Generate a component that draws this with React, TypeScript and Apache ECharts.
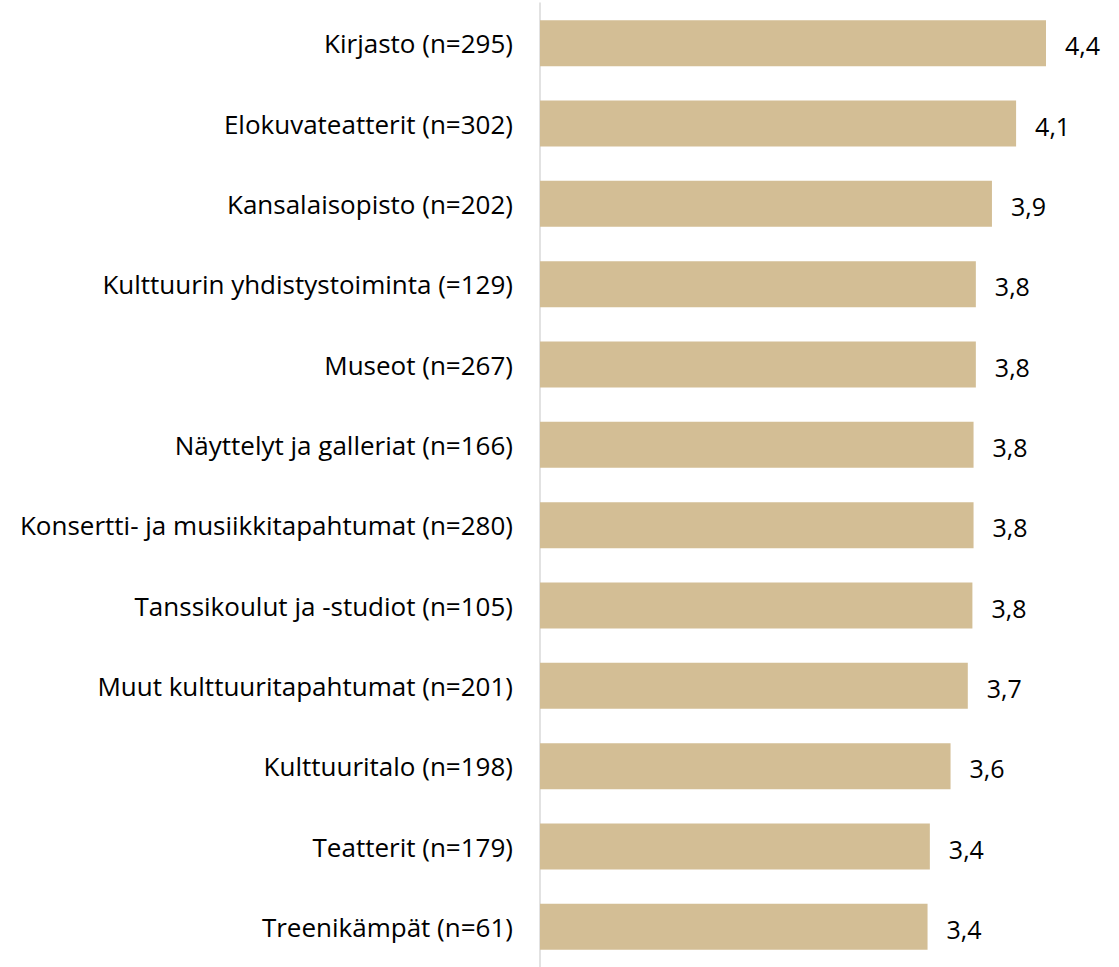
import React, { useEffect, useRef } from "react";
import * as echarts from "echarts";

const categories: string[] = [
  "Kirjasto (n=295)",
  "Elokuvateatterit (n=302)",
  "Kansalaisopisto (n=202)",
  "Kulttuurin yhdistystoiminta (=129)",
  "Museot (n=267)",
  "Näyttelyt ja galleriat (n=166)",
  "Konsertti- ja musiikkitapahtumat (n=280)",
  "Tanssikoulut ja -studiot (n=105)",
  "Muut kulttuuritapahtumat (n=201)",
  "Kulttuuritalo (n=198)",
  "Teatterit (n=179)",
  "Treenikämpät (n=61)",
];

const values: number[] = [4.4, 4.14, 3.93, 3.79, 3.79, 3.77, 3.77, 3.76, 3.72, 3.57, 3.39, 3.37];

const FONT = "'Open Sans', 'Noto Sans', sans-serif";

export default function App() {
  const ref = useRef<HTMLDivElement>(null);
  useEffect(() => {
    if (!ref.current) return;
    const chart = echarts.init(ref.current, undefined, { renderer: "svg" });
    chart.setOption({
      animation: false,
      backgroundColor: "#ffffff",
      grid: { left: 540, right: 4, top: 3, bottom: -3, containLabel: false },
      xAxis: {
        type: "value",
        min: 0,
        max: 5,
        show: false,
        splitLine: { show: false },
      },
      yAxis: {
        type: "category",
        data: categories,
        inverse: true,
        axisLine: { show: true, lineStyle: { color: "#d9d9d9", width: 1.5 } },
        axisTick: { show: false },
        axisLabel: {
          margin: 27,
          color: "#000000",
          fontFamily: FONT,
          fontSize: 26,
        },
      },
      series: [
        {
          type: "bar",
          data: values,
          barWidth: 46,
          itemStyle: { color: "#D3BE95" },
          label: {
            show: true,
            position: "right",
            distance: 19,
            offset: [0, 2],
            color: "#000000",
            fontFamily: FONT,
            fontSize: 25,
            formatter: (p: any) => Number(p.value).toFixed(1).replace(".", ","),
          },
        },
      ],
    });
    return () => chart.dispose();
  }, []);
  return (
    <div
      ref={ref}
      style={{ position: "fixed", left: 0, top: 0, width: 1119, height: 967, background: "#fff" }}
    />
  );
}
